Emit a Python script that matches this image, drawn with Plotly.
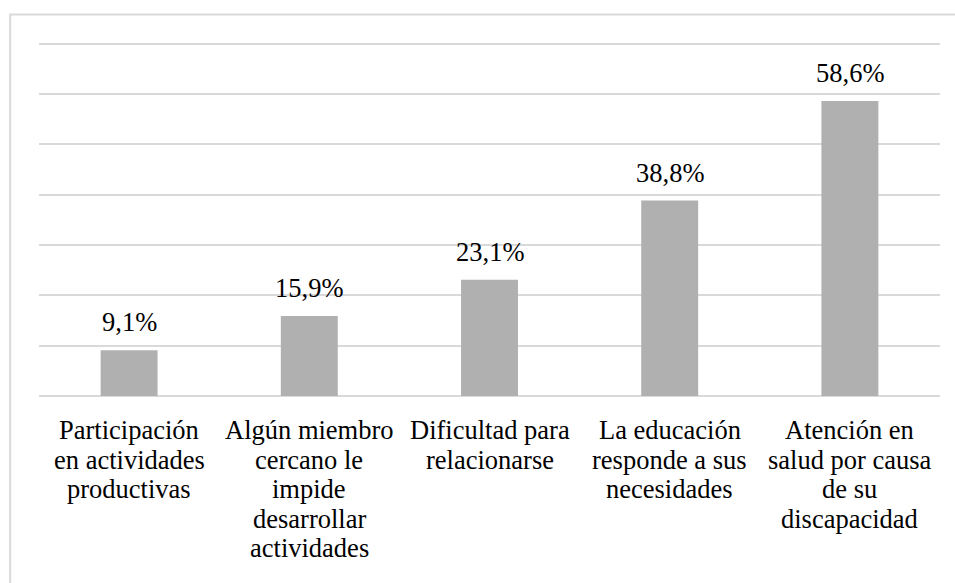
import plotly.graph_objects as go

# Category labels, one list entry per printed line
category_lines = [
    ["Participación", "en actividades", "productivas"],
    ["Algún miembro", "cercano le", "impide", "desarrollar", "actividades"],
    ["Dificultad para", "relacionarse"],
    ["La educación", "responde a sus", "necesidades"],
    ["Atención en", "salud por causa", "de su", "discapacidad"],
]
categories = [" ".join(lines) for lines in category_lines]
values = [9.1, 15.9, 23.1, 38.8, 58.6]

FONT = "'Liberation Serif', 'DejaVu Serif', serif"
FONT_SIZE = 26.5
LINE_STEP = 29.5
BAR_COLOR = "#B0B0B0"
GRID_COLOR = "#D9D9D9"


def pct_label(v):
    return f"{v:.1f}".replace(".", ",") + "%"


fig = go.Figure(
    go.Bar(
        x=categories,
        y=values,
        marker=dict(color=BAR_COLOR, line=dict(width=0)),
        width=0.316,
        hoverinfo="skip",
    )
)

annotations = []
# value labels above each bar
for cat, v in zip(categories, values):
    annotations.append(
        dict(
            x=cat, y=v, xref="x", yref="y",
            text=pct_label(v), showarrow=False,
            yanchor="bottom", xanchor="center", yshift=11,
            font=dict(family=FONT, size=FONT_SIZE, color="#000000"),
        )
    )
# multi-line category labels under the axis
for cat, lines in zip(categories, category_lines):
    for i, line in enumerate(lines):
        annotations.append(
            dict(
                x=cat, y=0, xref="x", yref="paper",
                text=line, showarrow=False,
                yanchor="top", xanchor="center",
                yshift=-17 - i * LINE_STEP,
                font=dict(family=FONT, size=FONT_SIZE, color="#000000"),
            )
        )

fig.update_layout(
    width=955,
    height=583,
    margin=dict(l=39, r=15, t=40.5, b=187),
    paper_bgcolor="#FFFFFF",
    plot_bgcolor="#FFFFFF",
    font=dict(family=FONT),
    showlegend=False,
    bargap=0.684,
    annotations=annotations,
    xaxis=dict(
        showticklabels=False, showgrid=False, zeroline=False,
        showline=False, ticks="",
    ),
    yaxis=dict(
        range=[0, 70.5], tickvals=[0, 10, 20, 30, 40, 50, 60, 70],
        showticklabels=False,
        showgrid=True, gridcolor=GRID_COLOR, gridwidth=1.5,
        zeroline=True, zerolinecolor=GRID_COLOR, zerolinewidth=2,
        showline=False, ticks="",
    ),
    shapes=[
        # chart frame (runs past the right and bottom edges of the page)
        dict(
            type="rect", xref="paper", yref="paper",
            x0=-0.032, x1=1.2, y0=-1.0, y1=1.0745,
            line=dict(color=GRID_COLOR, width=2), fillcolor="rgba(0,0,0,0)",
            layer="below",
        )
    ],
)

fig.write_html("out.html")
